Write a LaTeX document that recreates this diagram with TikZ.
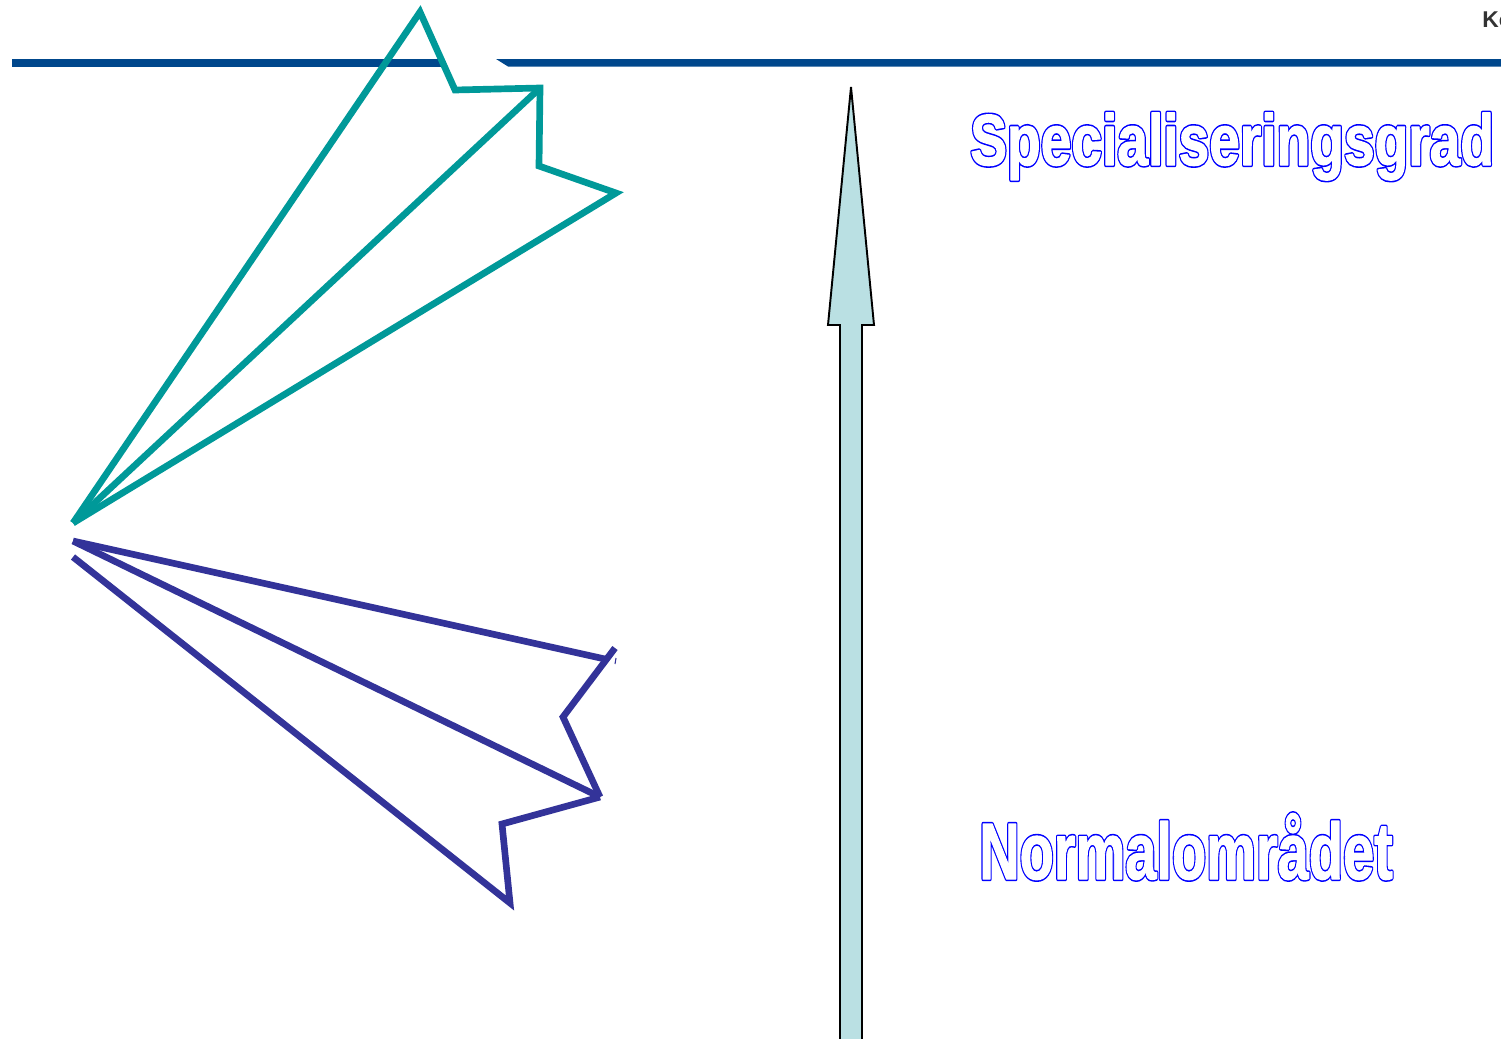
\documentclass[tikz,border=0pt]{standalone}
\usepackage{fontspec}
\setmainfont{Liberation Sans}
\definecolor{fanteal}{RGB}{0,153,153}
\definecolor{fanpurple}{RGB}{51,51,153}
\definecolor{rulebar}{RGB}{0,71,140}
\definecolor{arrowfill}{RGB}{186,224,227}
% hollow (outlined) letters: blue stroked copy under a white stroked copy
\newcommand{\hollowtext}[1]{%
  \rlap{\color{blue}\special{pdf:literal direct 2 Tr 2.5 w 1 j}#1}%
  {\color{white}\special{pdf:literal direct 2 Tr 0.7 w 1 j}#1}%
  \special{pdf:literal direct 0 Tr}}
\tikzset{
  fanline/.style={line width=3.8pt, line join=miter},
  hollowlabel/.style={inner sep=0pt, anchor=base west}
}
\begin{document}
\begin{tikzpicture}[x=0.02cm, y=-0.02cm]
      \useasboundingbox (0,0) rectangle (1501,1038);
      \clip (0,0) rectangle (1501,1038);

      % Top rule, broken behind the teal zigzag
      \fill[rulebar] (12,59) rectangle (442,66.5);
      \fill[rulebar] (496,59) -- (1501,59) -- (1501,66.5) -- (508,66.5) -- cycle;

      % Corner text, cut off by the page edge
      \node[inner sep=0pt, anchor=base west, text=black!80, font=\bfseries\fontsize{13}{14}\selectfont] (corner) at (1482,27) {Ko};

      % Teal fan
      \coordinate (tealhub) at (73,523);
      \draw[fanteal, fanline] (tealhub) -- (420,12) -- (455,90) -- (540,88) -- (539,166) -- (616,193) -- (tealhub);
      \draw[fanteal, fanline] (tealhub) -- (540,88);

      % Purple fan
      \coordinate (purphub) at (73,541);
      \coordinate (purplow) at (73,557);
      \draw[fanpurple, fanline] (purphub) -- (605,659);
      \draw[fanpurple, fanline] (615,648) -- (563,717) -- (600,797);
      \draw[fanpurple, fanline] (purphub) -- (600,797);
      \draw[fanpurple, fanline] (purplow) -- (510,903) -- (502,824) -- (600,797);
      \draw[fanpurple, line width=0.6pt] (616,658) -- (615,664);

      % Block arrow
      \filldraw[fill=arrowfill, draw=black, line width=1.1pt, line join=miter]
        (851,87) -- (874,325) -- (862,325) -- (862,1050) -- (840,1050) -- (840,325) -- (828,325) -- cycle;

      % Labels
      \node[hollowlabel, xscale=0.765, font=\bfseries\fontsize{41}{45}\selectfont] (spec) at (970,165) {\hollowtext{Specialiseringsgrad}};
      \node[hollowlabel, xscale=0.70, font=\bfseries\fontsize{45.5}{50}\selectfont] (normal) at (979,879) {\hollowtext{Normalområdet}};
\end{tikzpicture}
\end{document}
